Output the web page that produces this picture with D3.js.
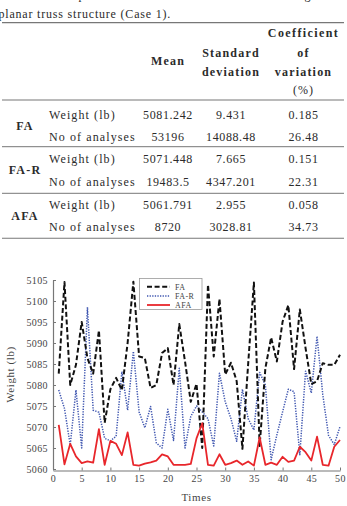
<!DOCTYPE html>
<html><head><meta charset="utf-8">
<script src="https://cdn.jsdelivr.net/npm/d3@7/dist/d3.min.js"></script>
<style>
html,body{margin:0;padding:0;background:#fff;}
svg{display:block;}
</style>
</head><body>
<svg id="c" width="347" height="506"></svg>
<script>
// ---------- table data ----------
const captionLines = ["Table 4. Comparison of the statistical results of the algorithms for the 10-bar", "planar truss structure (Case 1)."];
const headerMean = "Mean";
const headerStd = ["Standard", "deviation"];
const headerCov = ["Coefficient", "of", "variation", "(%)"];
const groups = ["FA", "FA-R", "AFA"];
const rowLabels = ["Weight (lb)", "No of analyses"];
const means = ["5081.242", "53196", "5071.448", "19483.5", "5061.791", "8720"];
const stds = ["9.431", "14088.48", "7.665", "4347.201", "2.955", "3028.81"];
const covs = ["0.185", "26.48", "0.151", "22.31", "0.058", "34.73"];

// ---------- chart data ----------
const times = [1,2,3,4,5,6,7,8,9,10,11,12,13,14,15,16,17,18,19,20,21,22,23,24,25,26,27,28,29,30,31,32,33,34,35,36,37,38,39,40,41,42,43,44,45,46,47,48,49,50];
const faW = [5082.7,5104.5,5080,5084.8,5095,5086.4,5082.7,5093,5071,5079,5081.7,5078.8,5090,5104.6,5086.8,5086.4,5079.3,5080,5087.6,5088.8,5080,5094.5,5085.6,5076,5080.3,5065,5103.9,5086.8,5100.5,5082.5,5085.3,5080.9,5064.8,5085,5104.4,5065.5,5084,5091.3,5085.6,5095.1,5099,5083.8,5098,5088.8,5080.2,5080.9,5085.2,5084.8,5084.8,5087.2];
const farW = [5078.8,5074.4,5065.7,5078.8,5065,5098.5,5074,5073.5,5067.3,5066.7,5067.8,5083.2,5074,5088,5073.6,5069.8,5074.9,5066.2,5065,5074.2,5066.8,5084,5065,5072.5,5075,5073.6,5072,5065.5,5082.8,5076,5072,5066.6,5079,5072,5069.3,5083,5080,5062.2,5068.1,5073.6,5079,5078.4,5063.4,5083.3,5078.1,5091.6,5077.7,5068,5065.8,5070.1];
const afaW = [5070.5,5061.1,5066,5063,5061.4,5061.8,5061.5,5069.5,5061,5066.7,5066,5063.3,5068.7,5061,5060.8,5061.3,5061.6,5062,5063.5,5063,5061,5061,5061,5061.2,5067.3,5070.9,5061,5060.8,5063.5,5061,5061.4,5062,5061,5061.8,5060.8,5067.5,5061,5061.5,5061,5062.9,5061.7,5062,5065.3,5064,5062,5067.7,5061,5060.8,5065.3,5066.9];
const yTicks = [5060,5065,5070,5075,5080,5085,5090,5095,5100,5105];
const xTicks = [0,5,10,15,20,25,30,35,40,45,50];
const seriesNames = ["FA", "FA-R", "AFA"];
const xTitle = "Times";
const yTitle = "Weight (lb)";

const svg = d3.select("#c");
const serif = "'Liberation Serif', 'Times New Roman', serif";
const txtCol = "#2b2b2b";

// ---------- caption ----------
svg.append("text").attr("x", 4).attr("y", -1).attr("font-family", serif).attr("font-size", 12)
  .attr("letter-spacing", 0.8).attr("fill", txtCol).text(captionLines[0]);
svg.append("text").attr("x", -1.5).attr("y", 18).attr("font-family", serif).attr("font-size", 12)
  .attr("letter-spacing", 0.8).attr("fill", txtCol).text(captionLines[1]);

// ---------- table ----------
const ruleX0 = 2, ruleX1 = 344;
function rule(yy, w) {
  svg.append("line").attr("x1", ruleX0).attr("x2", ruleX1).attr("y1", yy).attr("y2", yy)
    .attr("stroke", "#777").attr("stroke-width", w);
}
rule(22.7, 1.3); rule(100, 1.1); rule(146.7, 1); rule(193.3, 1); rule(238.3, 1.1);

const colMean = 168, colStd = 231, colCov = 303.5;
function ctext(str, cx, cy, bold, ls) {
  svg.append("text").attr("x", cx).attr("y", cy).attr("dy", "0.35em")
    .attr("text-anchor", "middle").attr("font-family", serif).attr("font-size", 12)
    .attr("font-weight", bold ? "bold" : "normal").attr("letter-spacing", ls)
    .attr("fill", txtCol).text(str);
}
ctext(headerMean, colMean, 61, true, 1.2);
ctext(headerStd[0], colStd, 52.5, true, 1.2);
ctext(headerStd[1], colStd, 71.5, true, 1.2);
ctext(headerCov[0], colCov, 33, true, 1.4);
ctext(headerCov[1], colCov, 52.5, true, 1.2);
ctext(headerCov[2], colCov, 71.5, true, 1.2);
ctext(headerCov[3], colCov, 90, false, 1);

const rowY = [114.3, 136.7, 158.3, 181.7, 204.3, 226.7];
const groupY = [125.5, 170, 215.5];
groups.forEach((g, gi) => ctext(g, 25, groupY[gi], true, 1.2));
rowY.forEach((ry, i) => {
  svg.append("text").attr("x", 49).attr("y", ry).attr("dy", "0.35em")
    .attr("font-family", serif).attr("font-size", 12).attr("letter-spacing", 1.1)
    .attr("fill", txtCol).text(rowLabels[i % 2]);
  ctext(means[i], colMean, ry, false, 0.6);
  ctext(stds[i], colStd, ry, false, 0.6);
  ctext(covs[i], colCov, ry, false, 0.6);
});

// ---------- chart ----------
const x = d3.scaleLinear().domain([0, 50]).range([53, 340]);
const y = d3.scaleLinear().domain([5060, 5105]).range([469, 280]);
const axisCol = "#777";

const gx = svg.append("g").attr("transform", "translate(0,470.5)")
  .call(d3.axisBottom(x).tickValues(xTicks).tickFormat(d3.format("d"))
    .tickSize(-3).tickSizeOuter(0).tickPadding(4));
const gy = svg.append("g").attr("transform", "translate(53,0)")
  .call(d3.axisLeft(y).tickValues(yTicks).tickFormat(d3.format("d"))
    .tickSize(-3).tickSizeOuter(0).tickPadding(5));
[gx, gy].forEach(g => {
  g.select(".domain").attr("stroke", axisCol).attr("stroke-width", 1.2);
  g.selectAll(".tick line").attr("stroke", axisCol);
  g.selectAll(".tick text").attr("font-family", serif).attr("font-size", 10)
    .attr("fill", "#444").attr("letter-spacing", 0.4);
});

svg.append("text").attr("x", (x(0) + x(50)) / 2).attr("y", 497).attr("dy", "0.35em")
  .attr("text-anchor", "middle").attr("font-family", serif).attr("font-size", 11)
  .attr("letter-spacing", 0.6).attr("fill", "#444").text(xTitle);
svg.append("text").attr("transform", `translate(10,${(y(5060) + y(5105)) / 2}) rotate(-90)`)
  .attr("dy", "0.35em").attr("text-anchor", "middle").attr("font-family", serif)
  .attr("font-size", 11).attr("letter-spacing", 0.6).attr("fill", "#444").text(yTitle);

const line = d3.line().x((d, i) => x(times[i])).y(d => y(d));
const styles = [
  {data: faW, color: "#111", w: 2, dash: "5,2.6"},
  {data: farW, color: "#3f56b0", w: 1.5, dash: "1.3,1.3"},
  {data: afaW, color: "#e8262b", w: 1.8, dash: null}
];
// draw order: FA-R, FA, AFA
[1, 0, 2].forEach(k => {
  const s = styles[k];
  svg.append("path").datum(s.data).attr("d", line).attr("fill", "none")
    .attr("stroke", s.color).attr("stroke-width", s.w)
    .attr("stroke-dasharray", s.dash).attr("stroke-linejoin", "round");
});

// ---------- legend ----------
const lg = svg.append("g");
lg.append("rect").attr("x", 139.5).attr("y", 278.5).attr("width", 62.5).attr("height", 31)
  .attr("fill", "#fff").attr("stroke", "#999").attr("stroke-width", 0.8);
const legY = [286.7, 295.9, 305];
seriesNames.forEach((n, i) => {
  const s = styles[i];
  lg.append("line").attr("x1", 147).attr("x2", 170).attr("y1", legY[i]).attr("y2", legY[i])
    .attr("stroke", s.color).attr("stroke-width", s.w).attr("stroke-dasharray", s.dash);
  lg.append("text").attr("x", 175).attr("y", legY[i]).attr("dy", "0.35em")
    .attr("font-family", serif).attr("font-size", 8).attr("letter-spacing", 0.4)
    .attr("fill", "#444").text(n);
});
</script>
</body></html>
